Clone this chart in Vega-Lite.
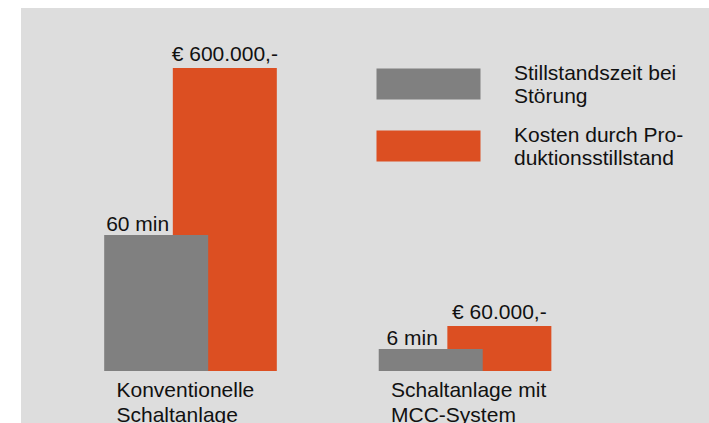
{
  "$schema": "https://vega.github.io/schema/vega-lite/v6.json",
  "width": 688,
  "height": 415,
  "autosize": {"type": "none"},
  "padding": {"left": 21, "top": 8, "right": 0, "bottom": 0},
  "background": "#ffffff",
  "config": {
    "view": {"fill": "#dddddd", "stroke": null},
    "font": "Liberation Sans",
    "text": {"font": "Liberation Sans", "fontSize": 21, "color": "#111111"}
  },
  "data": {
    "values": [
      {"gruppe": "Konventionelle\nSchaltanlage", "reihe": "Kosten durch Pro-\nduktionsstillstand", "hoehe": 100, "label": "€ 600.000,-"},
      {"gruppe": "Schaltanlage mit\nMCC-System", "reihe": "Kosten durch Pro-\nduktionsstillstand", "hoehe": 14.85, "label": "€ 60.000,-"},
      {"gruppe": "Konventionelle\nSchaltanlage", "reihe": "Stillstandszeit bei\nStörung", "hoehe": 44.88, "label": "60 min"},
      {"gruppe": "Schaltanlage mit\nMCC-System", "reihe": "Stillstandszeit bei\nStörung", "hoehe": 7.26, "label": "6 min"}
    ]
  },
  "encoding": {
    "x": {
      "field": "gruppe", "type": "nominal", "sort": null, "axis": null,
      "scale": {"paddingInner": 0, "paddingOuter": 0.253, "align": 0.232}
    },
    "y": {
      "field": "hoehe", "type": "quantitative", "axis": null, "stack": null,
      "scale": {"domain": [-17.16, 119.8], "nice": false, "zero": false}
    }
  },
  "layer": [
    {
      "mark": {"type": "bar", "width": 104},
      "encoding": {
        "xOffset": {
          "field": "reihe", "type": "nominal",
          "scale": {"domain": ["Stillstandszeit bei\nStörung", "Kosten durch Pro-\nduktionsstillstand"], "paddingInner": 0, "paddingOuter": 1.064}
        },
        "color": {
          "field": "reihe", "type": "nominal",
          "scale": {"domain": ["Stillstandszeit bei\nStörung", "Kosten durch Pro-\nduktionsstillstand"], "range": ["#808080", "#dc4f22"]},
          "legend": {
            "orient": "none", "legendX": 355, "legendY": 61, "title": null,
            "padding": 0,
            "symbolType": "M-1,-1.1H9.4V2H-1Z", "symbolSize": 400,
            "symbolStrokeWidth": 0, "symbolOpacity": 1,
            "labelFont": "Liberation Sans", "labelFontSize": 21, "labelColor": "#111111",
            "labelBaseline": "alphabetic",
            "labelOffset": 117, "labelLimit": 400, "rowPadding": 17,
            "labelExpr": "split(datum.label, '\\n')"
          }
        }
      }
    },
    {
      "transform": [{"filter": "datum.reihe == 'Kosten durch Pro-\\nduktionsstillstand'"}],
      "mark": {"type": "text", "align": "center", "baseline": "alphabetic", "dy": -7},
      "encoding": {
        "xOffset": {
          "field": "reihe", "type": "nominal",
          "scale": {"domain": ["Stillstandszeit bei\nStörung", "Kosten durch Pro-\nduktionsstillstand"], "paddingInner": 0, "paddingOuter": 1.064}
        },
        "text": {"field": "label"}
      }
    },
    {
      "transform": [{"filter": "datum.reihe == 'Stillstandszeit bei\\nStörung'"}],
      "mark": {"type": "text", "align": "center", "baseline": "alphabetic", "dy": -4, "dx": -18.5},
      "encoding": {
        "xOffset": {
          "field": "reihe", "type": "nominal",
          "scale": {"domain": ["Stillstandszeit bei\nStörung", "Kosten durch Pro-\nduktionsstillstand"], "paddingInner": 0, "paddingOuter": 1.064}
        },
        "text": {"field": "label"}
      }
    },
    {
      "transform": [{"filter": "datum.reihe == 'Stillstandszeit bei\\nStörung'"}],
      "mark": {"type": "text", "align": "left", "baseline": "alphabetic", "dx": -74, "dy": 26, "lineBreak": "\n", "lineHeight": 24.5},
      "encoding": {
        "y": {"datum": 0, "type": "quantitative"},
        "text": {"field": "gruppe"}
      }
    }
  ]
}
